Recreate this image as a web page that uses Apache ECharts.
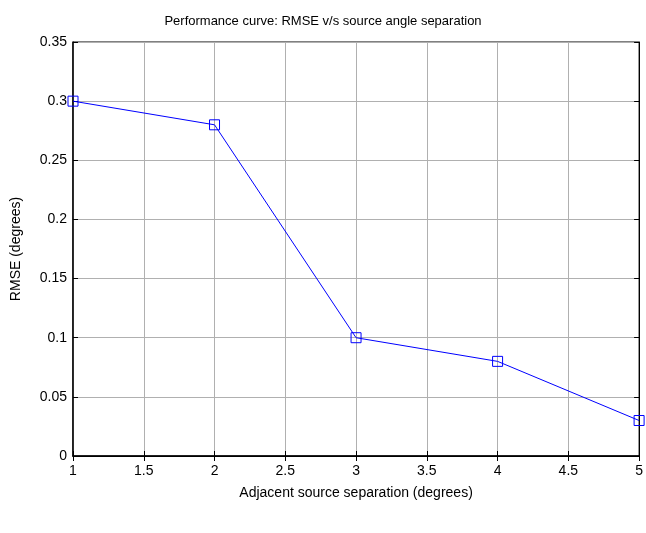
<!DOCTYPE html>
<html>
<head>
<meta charset="utf-8">
<style>
  html, body { margin: 0; padding: 0; background: #fff; }
  #chart { width: 646px; height: 533px; }
</style>
<script src="https://cdn.jsdelivr.net/npm/echarts@6/dist/echarts.min.js"></script>
</head>
<body>
<div id="chart"></div>
<script>
// Source separation (degrees) and resulting RMSE (degrees)
const separation = [1, 2, 3, 4, 5];
const rmse = [0.30, 0.28, 0.10, 0.08, 0.03];

const titleText = 'Performance curve: RMSE v/s source angle separation';
const xName = 'Adjacent source separation (degrees)';
const yName = 'RMSE (degrees)';

const font = '"Liberation Sans", Arial, sans-serif';
const chart = echarts.init(document.getElementById('chart'), null, { renderer: 'canvas' });

const tickStyle = { show: true, inside: true, length: 5, lineStyle: { color: '#000', width: 1 } };
const gridLine = { show: true, lineStyle: { color: '#b0b0b0', width: 1, type: 'solid' } };

chart.setOption({
  animation: false,
  backgroundColor: '#fff',
  title: {
    text: titleText,
    left: 'center',
    top: 10,
    textStyle: { fontFamily: font, fontSize: 13, fontWeight: 'normal', color: '#000' }
  },
  grid: {
    left: 73, right: 5, top: 42, bottom: 77,
    show: true, borderColor: '#000', borderWidth: 1, containLabel: false
  },
  xAxis: [{
    type: 'value', min: 1, max: 5, interval: 0.5,
    name: xName, nameLocation: 'middle', nameGap: 30,
    nameTextStyle: { fontFamily: font, fontSize: 14, color: '#000' },
    axisLine: { show: true, lineStyle: { color: '#000', width: 1.5 } },
    axisTick: tickStyle,
    axisLabel: { fontFamily: font, fontSize: 14, color: '#000', margin: 8,
      formatter: v => String(Math.round(v * 10) / 10) },
    splitLine: gridLine
  }, {
    type: 'value', position: 'top', min: 1, max: 5, interval: 0.5,
    axisLine: { show: true, lineStyle: { color: '#000' } },
    axisTick: tickStyle, axisLabel: { show: false }, splitLine: { show: false }
  }],
  yAxis: [{
    type: 'value', min: 0, max: 0.35, interval: 0.05,
    name: yName, nameLocation: 'middle', nameGap: 50,
    nameTextStyle: { fontFamily: font, fontSize: 14, color: '#000' },
    axisLine: { show: true, lineStyle: { color: '#000', width: 1.5 } },
    axisTick: tickStyle,
    axisLabel: { fontFamily: font, fontSize: 14, color: '#000', margin: 6,
      formatter: v => String(Math.round(v * 100) / 100) },
    splitLine: gridLine
  }, {
    type: 'value', position: 'right', min: 0, max: 0.35, interval: 0.05,
    axisLine: { show: true, lineStyle: { color: '#000' } },
    axisTick: tickStyle, axisLabel: { show: false }, splitLine: { show: false }
  }],
  series: [{
    type: 'line',
    data: separation.map((x, i) => [x, rmse[i]]),
    clip: false,
    symbol: 'rect',
    symbolSize: 10,
    showAllSymbol: true,
    lineStyle: { color: '#0000ff', width: 1 },
    itemStyle: { color: 'rgba(255,255,255,0)', borderColor: '#0000ff', borderWidth: 1 }
  }]
});
</script>
</body>
</html>
